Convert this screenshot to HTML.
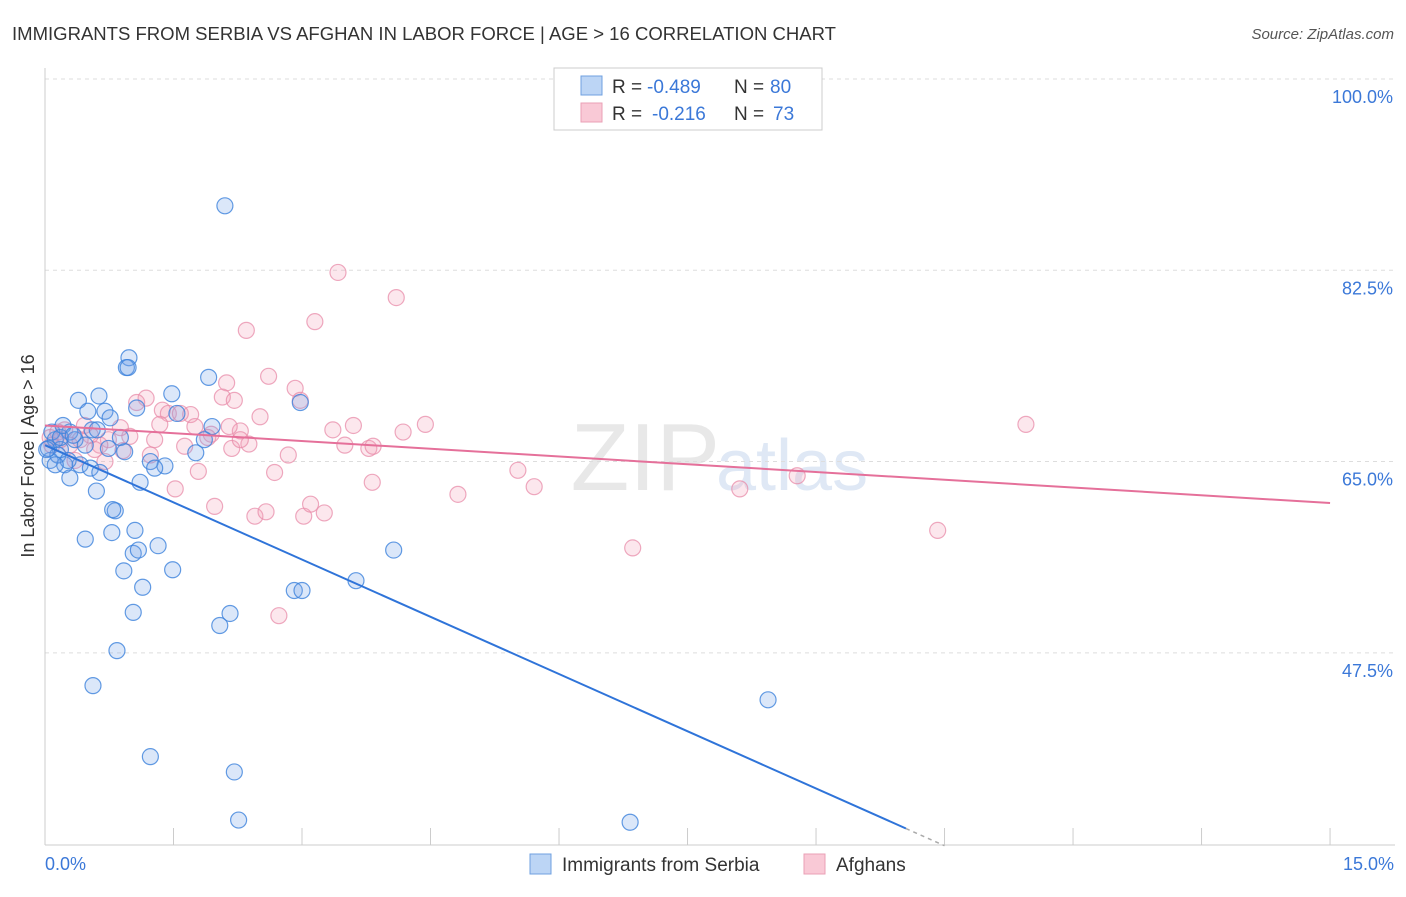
<!DOCTYPE html>
<html><head><meta charset="utf-8"><style>
body{margin:0;background:#fff;font-family:"Liberation Sans",sans-serif;}
svg text{font-family:"Liberation Sans",sans-serif;}
</style></head><body>
<svg id="c" width="1406" height="892">
<text x="12" y="40" font-size="18" fill="#333" textLength="824" lengthAdjust="spacingAndGlyphs">IMMIGRANTS FROM SERBIA VS AFGHAN IN LABOR FORCE | AGE &gt; 16 CORRELATION CHART</text>
<text x="1394" y="39" font-size="15" fill="#555" font-style="italic" text-anchor="end">Source: ZipAtlas.com</text>
<text x="720" y="490" font-size="96" fill="#e8e8e8" text-anchor="end" font-family="Liberation Serif">ZIP</text>
<text x="716" y="490" font-size="72" fill="#dfe8f5">atlas</text>
<text transform="translate(34,456) rotate(-90)" font-size="18" fill="#333" text-anchor="middle">In Labor Force | Age &gt; 16</text>
<g id="grid"></g><g id="marks"></g><g id="trend"></g>
<g>
<rect x="554" y="68" width="268" height="62" fill="#fff" stroke="#ccc"/>
<rect x="581" y="76" width="21" height="19" fill="#bcd5f5" stroke="#6fa0e0"/>
<rect x="581" y="103" width="21" height="19" fill="#f9c9d6" stroke="#eaa0b6"/>
<text x="612" y="93" font-size="19" fill="#333">R =</text>
<text x="647" y="93" font-size="19" fill="#3b78d8">-0.489</text>
<text x="734" y="93" font-size="19" fill="#333">N =</text>
<text x="770" y="93" font-size="19" fill="#3b78d8">80</text>
<text x="612" y="120" font-size="19" fill="#333">R =</text>
<text x="652" y="120" font-size="19" fill="#3b78d8">-0.216</text>
<text x="734" y="120" font-size="19" fill="#333">N =</text>
<text x="773" y="120" font-size="19" fill="#3b78d8">73</text>
</g>
<rect x="530" y="854" width="21" height="20" fill="#bcd5f5" stroke="#6fa0e0"/>
<text x="562" y="871" font-size="19" fill="#333">Immigrants from Serbia</text>
<rect x="804" y="854" width="21" height="20" fill="#f9c9d6" stroke="#eaa0b6"/>
<text x="836" y="871" font-size="19" fill="#333">Afghans</text>
</svg>
<script>
const yTicks=[100,82.5,65,47.5];
const yTickLabels=["100.0%","82.5%","65.0%","47.5%"];
const xTickLabels=["0.0%","15.0%"];
const serbiaX=[2.10,0.98,0.95,0.97,1.48,1.91,0.39,0.63,0.50,0.70,1.07,0.76,1.54,2.98,0.29,0.55,0.88,0.61,1.95,1.86,1.76,0.93,0.74,1.23,1.40,1.28,0.12,0.18,0.06,0.23,0.41,0.53,0.64,0.29,0.60,1.11,0.82,0.79,0.47,0.78,1.05,1.03,1.09,1.32,0.92,1.14,1.49,1.03,2.04,2.16,2.91,3.00,3.63,4.07,0.84,0.56,1.23,2.21,2.26,6.83,8.44,0.08,0.18,0.04,0.15,0.35,0.47,0.27,0.12,0.02,0.21,0.33];
const serbiaY=[88.4,74.5,73.6,73.6,71.2,72.7,70.6,71.0,69.6,69.6,69.9,69.0,69.4,70.4,67.7,67.9,67.2,67.9,68.2,67.0,65.8,65.9,66.2,65.0,64.6,64.4,67.0,66.1,65.1,64.7,64.7,64.4,64.0,63.5,62.3,63.1,60.5,60.6,57.9,58.5,58.7,56.6,56.9,57.3,55.0,53.5,55.1,51.2,50.0,51.1,53.2,53.2,54.1,56.9,47.7,44.5,38.0,36.6,32.2,32.0,43.2,67.7,67.2,66.2,65.6,67.0,66.5,65.1,64.7,66.1,68.3,67.4];
const afghanX=[3.42,4.10,3.15,2.35,2.61,2.92,2.12,2.98,2.07,2.21,1.18,1.07,1.37,1.70,2.51,1.44,1.58,3.36,3.60,4.18,4.44,3.50,3.78,3.83,3.82,2.84,2.68,2.38,2.28,2.15,1.94,1.75,1.90,1.63,1.28,0.99,0.88,0.74,0.64,0.53,0.41,0.29,0.18,0.06,0.23,0.46,1.79,1.52,1.98,2.45,2.58,3.02,3.10,3.26,2.73,4.82,5.52,5.71,6.86,8.11,8.78,10.42,11.45,0.70,1.23,2.18,0.91,1.34,2.28,0.08,0.58,0.15,0.35];
const afghanY=[82.3,80.0,77.8,77.0,72.8,71.7,72.2,70.6,70.9,70.6,70.8,70.4,69.7,69.3,69.1,69.4,69.4,67.9,68.3,67.7,68.4,66.5,66.2,66.4,63.1,65.6,64.0,66.6,67.8,68.2,67.5,68.2,67.2,66.4,67.0,67.3,68.1,67.0,66.5,67.4,67.0,66.5,67.0,67.2,67.9,68.3,64.1,62.5,60.9,60.0,60.4,60.0,61.1,60.3,50.9,62.0,64.2,62.7,57.1,62.5,63.7,58.7,68.4,65.0,65.6,66.2,66.0,68.4,67.0,66.5,66.1,67.7,65.1];
const serbiaTrend=[66.5,-3.49];
const afghanTrend=[68.3,-0.473];
const NS="http://www.w3.org/2000/svg";
const sx=v=>45+v*85.67, sy=v=>79+(100-v)*10.93;
function mk(tag,attrs,parent){const e=document.createElementNS(NS,tag);for(const k in attrs)e.setAttribute(k,attrs[k]);document.getElementById(parent).appendChild(e);return e;}
yTicks.forEach((t,i)=>{
 const l=mk('line',{x1:45,x2:1395,y1:sy(t),y2:sy(t),stroke:'#ddd','stroke-dasharray':'4,4'},'grid');
 
 
 const tx=mk('text',{x:1393,y:sy(t)+24,'font-size':18,fill:'#3b78d8','text-anchor':'end'},'grid');tx.textContent=yTickLabels[i];
 
 
});
const ax=mk('line',{x1:45,x2:1395,y1:845,y2:845,stroke:'#ccc'},'grid');


const ay=mk('line',{x1:45,x2:45,y1:68,y2:845,stroke:'#ccc'},'grid');


for(let i=1;i<=10;i++){const t=mk('line',{x1:sx(i*1.5),x2:sx(i*1.5),y1:828,y2:845,stroke:'#ccc'},'grid');
 
 }
[[0,'start',45],[15,'end',1394]].forEach((d,i)=>{const t=mk('text',{x:d[2],y:870,'font-size':18,fill:'#3b78d8','text-anchor':d[1]},'grid');t.textContent=xTickLabels[i];
 
 });
afghanX.forEach((x,i)=>{const c=mk('circle',{cx:sx(x),cy:sy(afghanY[i]),r:8,fill:'rgba(244,160,184,0.25)',stroke:'rgba(232,140,170,0.75)','stroke-width':1.2},'marks');
 
 });
serbiaX.forEach((x,i)=>{const c=mk('circle',{cx:sx(x),cy:sy(serbiaY[i]),r:8,fill:'rgba(110,160,230,0.25)',stroke:'rgba(60,130,220,0.8)','stroke-width':1.2},'marks');
 
 });
const bl=mk('line',{x1:sx(0),y1:sy(serbiaTrend[0]),x2:sx(10.05),y2:sy(serbiaTrend[0]+serbiaTrend[1]*10.05),stroke:'#2f74d9','stroke-width':2},'trend');


const bd=mk('line',{x1:sx(10.05),y1:sy(serbiaTrend[0]+serbiaTrend[1]*10.05),x2:sx(10.5),y2:sy(serbiaTrend[0]+serbiaTrend[1]*10.5),stroke:'#aaa','stroke-width':1.5,'stroke-dasharray':'4,4'},'trend');


const pl=mk('line',{x1:sx(0),y1:sy(afghanTrend[0]),x2:sx(15),y2:sy(afghanTrend[0]+afghanTrend[1]*15),stroke:'#e5709a','stroke-width':2},'trend');


</script>
</body></html>
